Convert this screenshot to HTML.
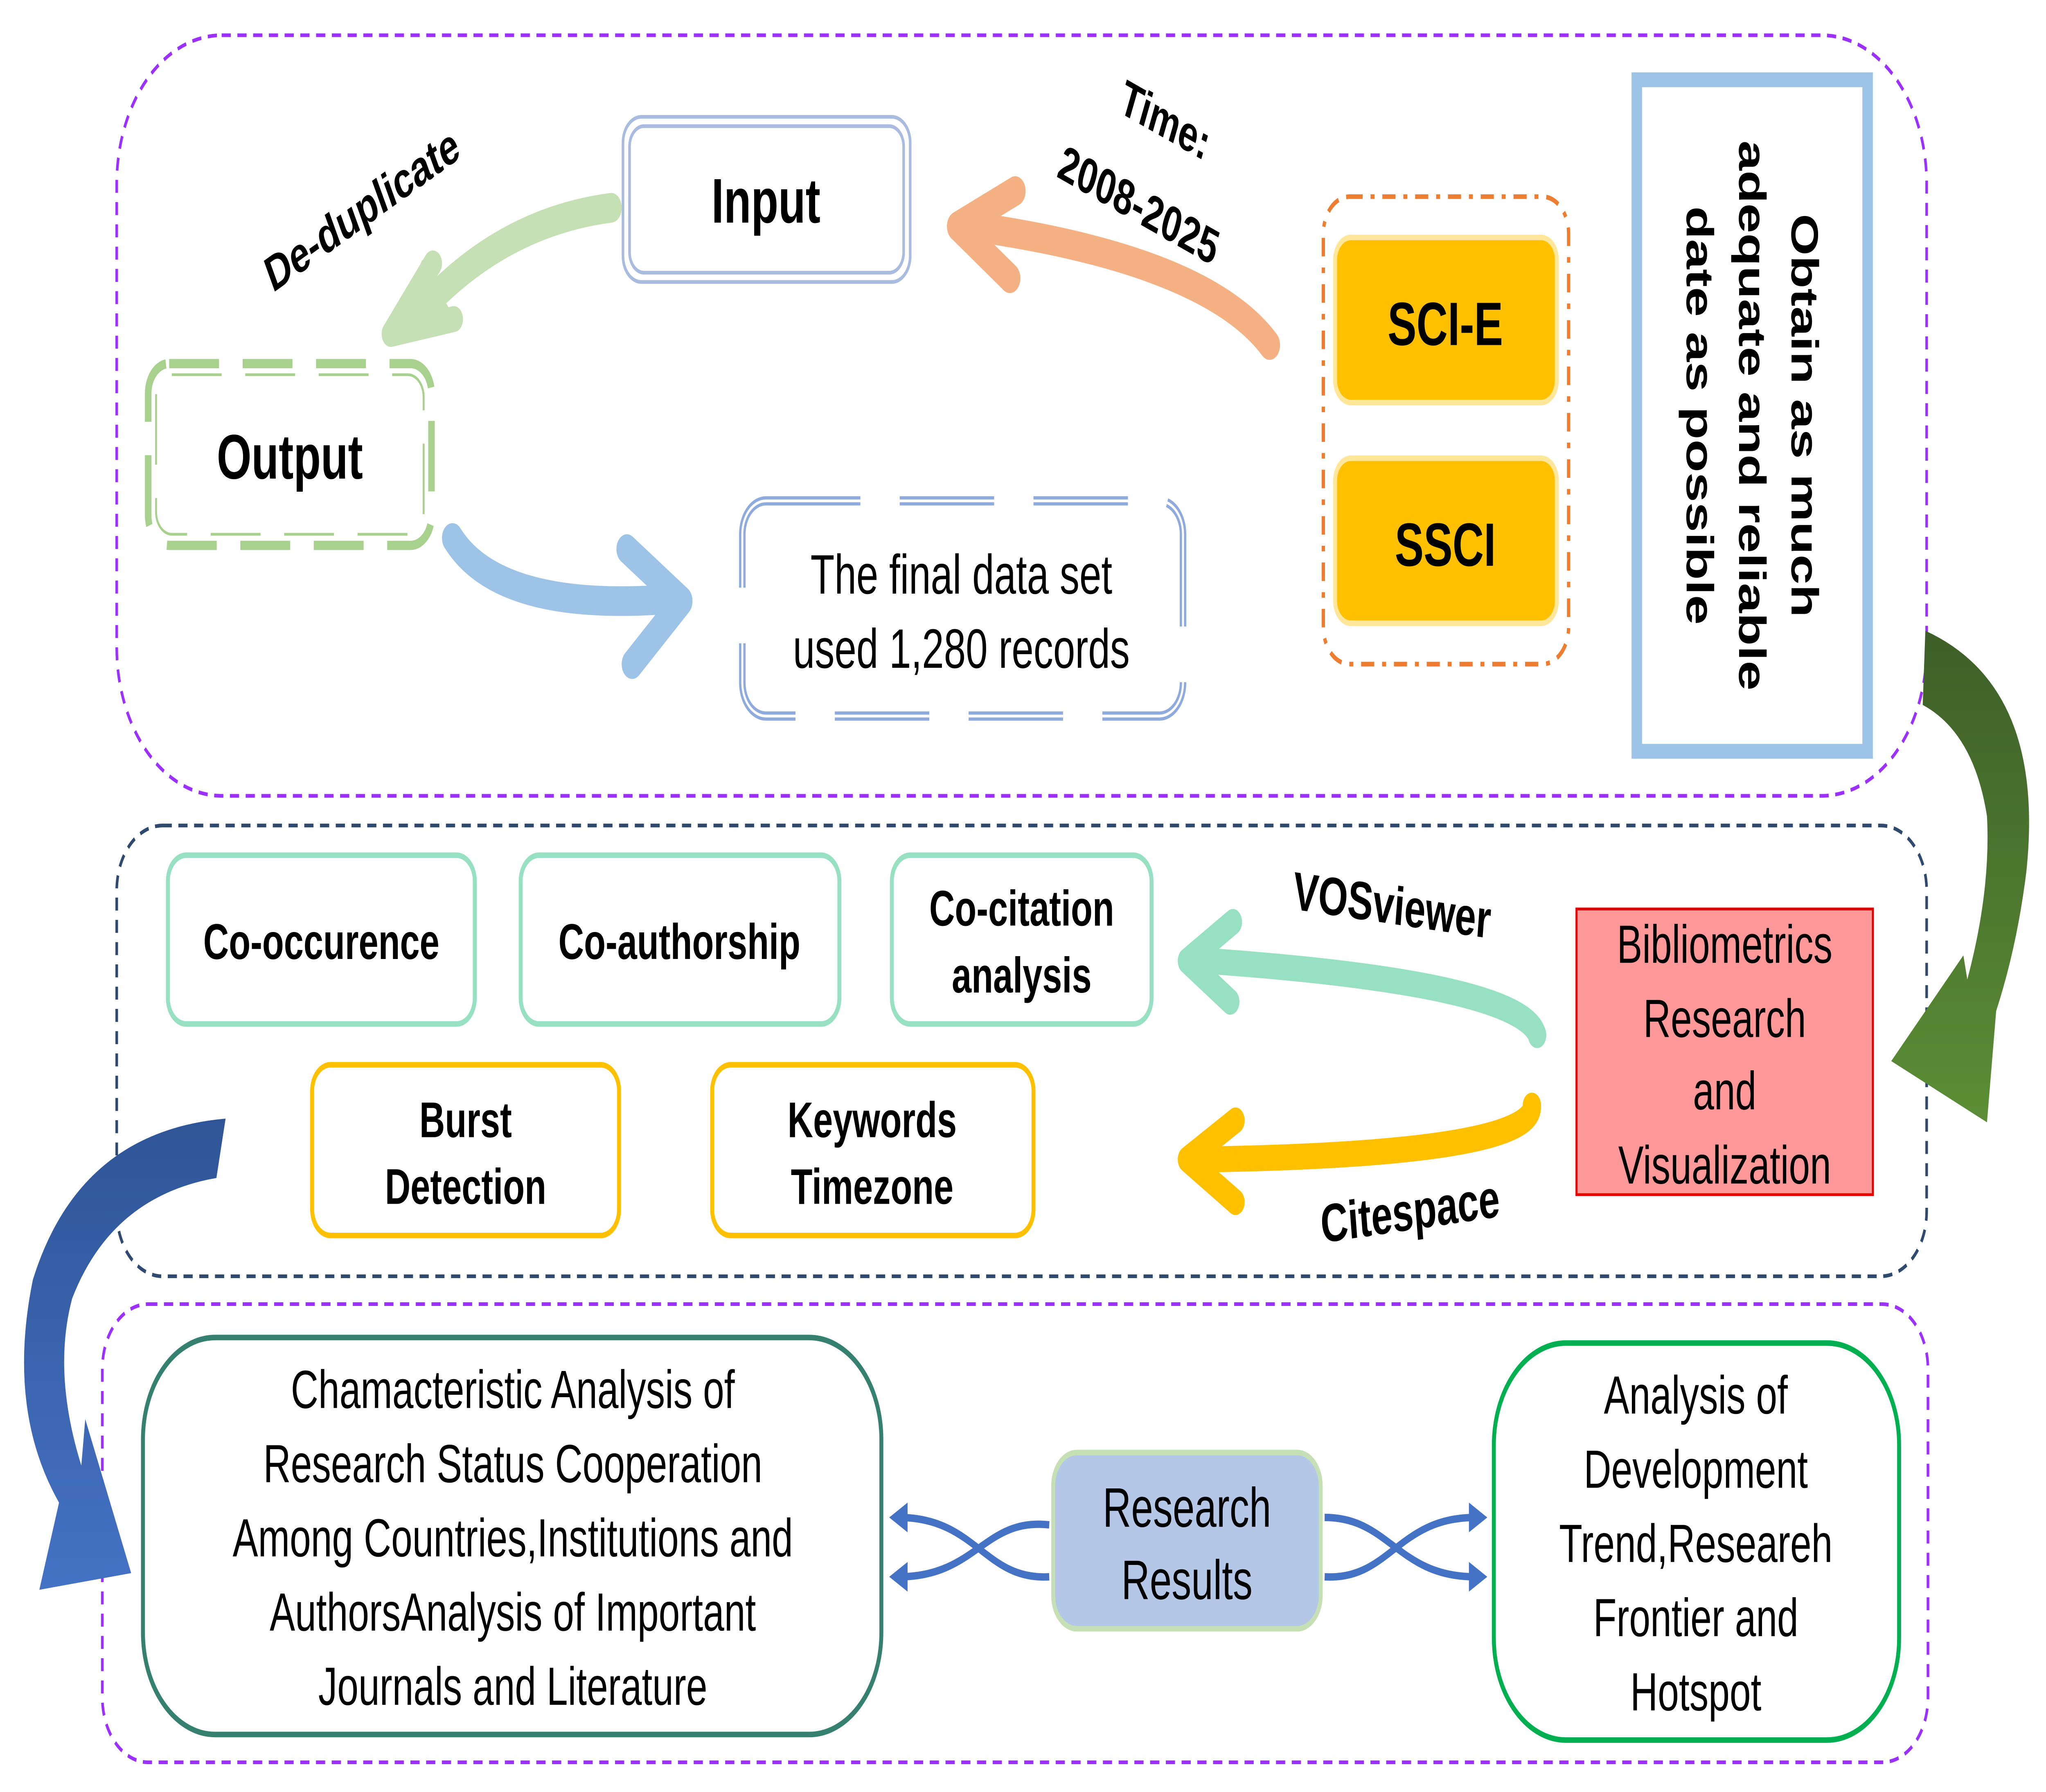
<!DOCTYPE html>
<html><head><meta charset="utf-8"><style>
html,body{margin:0;padding:0;background:#fff;width:100%;height:100%;overflow:hidden;}
svg{display:block;width:100vw;height:100vh;}
text{font-family:"Liberation Sans",Arial,sans-serif;}
</style></head><body>
<svg viewBox="0 0 1560 966" preserveAspectRatio="none" xmlns="http://www.w3.org/2000/svg">
<defs>
<linearGradient id="gg" x1="0" y1="0" x2="0" y2="1"><stop offset="0" stop-color="#3E5F28"/><stop offset="1" stop-color="#5B8E35"/></linearGradient>
<linearGradient id="bg" x1="0" y1="0" x2="0" y2="1"><stop offset="0" stop-color="#2F5597"/><stop offset="1" stop-color="#4472C4"/></linearGradient>
</defs>
<rect x="89" y="19" width="1380" height="410" rx="80" fill="none" stroke="#9B30FF" stroke-width="2" stroke-dasharray="7,5"/>
<rect x="89" y="445" width="1380" height="243" rx="35" fill="none" stroke="#2F4A6E" stroke-width="2" stroke-dasharray="7,5"/>
<rect x="78" y="703" width="1392" height="247" rx="35" fill="none" stroke="#9B30FF" stroke-width="2" stroke-dasharray="7,5"/>

<rect x="475" y="63" width="219" height="89" rx="14" fill="#fff" stroke="#A9BCE0" stroke-width="2"/>
<rect x="480" y="68" width="209" height="79" rx="11" fill="none" stroke="#A9BCE0" stroke-width="2"/>
<text x="584" y="120" font-size="34" font-weight="bold" text-anchor="middle">Input</text>
<rect x="113" y="196" width="216" height="98" rx="16" fill="none" stroke="#A9D18E" stroke-width="5" stroke-dasharray="38,18"/>
<rect x="119" y="202" width="204" height="86" rx="12" fill="none" stroke="#A9D18E" stroke-width="1.5" stroke-dasharray="38,18"/>
<text x="221" y="258" font-size="34" font-weight="bold" text-anchor="middle">Output</text>
<rect x="566" y="270" width="336" height="116" rx="18" fill="none" stroke="#8FAADC" stroke-width="5" stroke-dasharray="72,30"/>
<rect x="566" y="270" width="336" height="116" rx="18" fill="none" stroke="#fff" stroke-width="1.5" stroke-dasharray="72,30"/>
<text x="733" y="320" font-size="30" text-anchor="middle">The final data set</text>
<text x="733" y="360" font-size="30" text-anchor="middle">used 1,280 records</text>
<rect x="1009" y="106" width="187" height="252" rx="20" fill="none" stroke="#ED7D31" stroke-width="2.5" stroke-dasharray="10,6,3,6"/>
<rect x="1018" y="128" width="169" height="89" rx="12" fill="#FFC000" stroke="#FFE699" stroke-width="3"/>
<text x="1102" y="186" font-size="33" font-weight="bold" text-anchor="middle">SCI-E</text>
<rect x="1018" y="247" width="169" height="89" rx="12" fill="#FFC000" stroke="#FFE699" stroke-width="3"/>
<text x="1102" y="305" font-size="33" font-weight="bold" text-anchor="middle">SSCI</text>
<rect x="1248" y="43" width="176" height="362" fill="#fff" stroke="#9DC3E6" stroke-width="8"/>
<g transform="translate(1336,224) rotate(90)" font-size="29" font-weight="bold" text-anchor="middle">
<text x="0" y="-30">Obtain as much</text>
<text x="0" y="10">adequate and reliable</text>
<text x="0" y="50">date as possible</text>
</g>
<path d="M466,112 Q380,120 318,170" fill="none" stroke="#C5E0B4" stroke-width="16" stroke-linecap="round"/>
<path d="M296,182 L322,140 L350,176 Z" fill="#C5E0B4"/>
<path d="M298,180 L330,142" stroke="#C5E0B4" stroke-width="14" stroke-linecap="round"/>
<path d="M298,180 L346,172" stroke="#C5E0B4" stroke-width="14" stroke-linecap="round"/>
<path d="M968,186 Q920,140 740,122" fill="none" stroke="#F4B183" stroke-width="16" stroke-linecap="round"/>
<path d="M730,122 L774,103 M730,122 L770,150" stroke="#F4B183" stroke-width="16" stroke-linecap="round"/>
<path d="M345,290 Q380,330 510,323" fill="none" stroke="#9DC3E6" stroke-width="16" stroke-linecap="round"/>
<path d="M520,324 L478,296 M520,324 L482,358" stroke="#9DC3E6" stroke-width="16" stroke-linecap="round"/>
<text transform="translate(208,158) rotate(-27)" font-size="27" font-weight="bold">De-duplicate</text>
<text transform="translate(852,60) rotate(22)" font-size="27" font-weight="bold">Time:</text>
<text transform="translate(805,95) rotate(22)" font-size="27" font-weight="bold">2008-2025</text>

<g fill="#fff" stroke="#98E0C2" stroke-width="3">
<rect x="128" y="461" width="234" height="91" rx="14"/>
<rect x="397" y="461" width="243" height="91" rx="14"/>
<rect x="680" y="461" width="198" height="91" rx="14"/>
</g>
<g fill="#fff" stroke="#FFC000" stroke-width="3">
<rect x="238" y="574" width="234" height="92" rx="14"/>
<rect x="543" y="574" width="245" height="92" rx="14"/>
</g>
<g font-size="27" font-weight="bold" text-anchor="middle">
<text x="245" y="517">Co-occurence</text>
<text x="518" y="517">Co-authorship</text>
<text x="779" y="499">Co-citation</text>
<text x="779" y="535">analysis</text>
<text x="355" y="613">Burst</text>
<text x="355" y="649">Detection</text>
<text x="665" y="613">Keywords</text>
<text x="665" y="649">Timezone</text>
</g>
<rect x="1202" y="490" width="226" height="154" fill="#FF9999" stroke="#E00000" stroke-width="1.5"/>
<g font-size="29" text-anchor="middle">
<text x="1315" y="519">Bibliometrics</text>
<text x="1315" y="559">Research</text>
<text x="1315" y="598">and</text>
<text x="1315" y="638">Visualization</text>
</g>
<path d="M1172,558 Q1160,530 920,518" fill="none" stroke="#98E0C2" stroke-width="14" stroke-linecap="round"/>
<path d="M905,518 L940,497 M905,518 L938,540" stroke="#98E0C2" stroke-width="14" stroke-linecap="round"/>
<path d="M1168,596 Q1170,622 920,625" fill="none" stroke="#FFC000" stroke-width="14" stroke-linecap="round"/>
<path d="M905,625 L942,604 M905,625 L942,648" stroke="#FFC000" stroke-width="14" stroke-linecap="round"/>
<text transform="translate(985,490) rotate(6)" font-size="29" font-weight="bold">VOSviewer</text>
<text transform="translate(1008,670) rotate(-6)" font-size="29" font-weight="bold">Citespace</text>

<path d="M1468,340 Q1560,370 1545,470 Q1538,510 1522,545 L1515,605 L1442,572 L1497,515 L1500,528 Q1518,480 1515,440 Q1505,395 1466,380 Z" fill="url(#gg)"/>
<path d="M172,603 Q60,610 25,690 Q5,760 45,810 L30,857 L100,848 L65,765 L62,790 Q40,740 55,700 Q85,645 165,635 Z" fill="url(#bg)"/>

<rect x="109" y="721" width="563" height="214" rx="55" fill="#fff" stroke="#35806E" stroke-width="3"/>
<g font-size="29" text-anchor="middle">
<text x="391" y="759">Chamacteristic Analysis of</text>
<text x="391" y="799">Research Status Cooperation</text>
<text x="391" y="839">Among Countries,Institutions and</text>
<text x="391" y="879">AuthorsAnalysis of Important</text>
<text x="391" y="919">Journals and Literature</text>
</g>
<rect x="1139" y="724" width="309" height="214" rx="55" fill="#fff" stroke="#00B050" stroke-width="3"/>
<g font-size="29" text-anchor="middle">
<text x="1293" y="762">Analysis of</text>
<text x="1293" y="802">Development</text>
<text x="1293" y="842">Trend,Researeh</text>
<text x="1293" y="882">Frontier and</text>
<text x="1293" y="922">Hotspot</text>
</g>
<rect x="803" y="783" width="204" height="95" rx="18" fill="#B4C7E7" stroke="#C5E0B4" stroke-width="3"/>
<text x="905" y="823" font-size="30" text-anchor="middle">Research</text>
<text x="905" y="862" font-size="30" text-anchor="middle">Results</text>
<g fill="none" stroke="#4472C4" stroke-width="4">
<path d="M800,822 C750,818 745,850 685,850"/>
<path d="M800,850 C750,852 745,818 685,818"/>
<path d="M1010,818 C1060,818 1065,850 1125,850"/>
<path d="M1010,850 C1060,852 1065,818 1125,818"/>
</g>
<g fill="#4472C4">
<path d="M678,818 L692,810 L692,826 Z"/><path d="M678,850 L692,842 L692,858 Z"/>
<path d="M1134,818 L1120,810 L1120,826 Z"/><path d="M1134,850 L1120,842 L1120,858 Z"/>
</g>
</svg>
</body></html>
